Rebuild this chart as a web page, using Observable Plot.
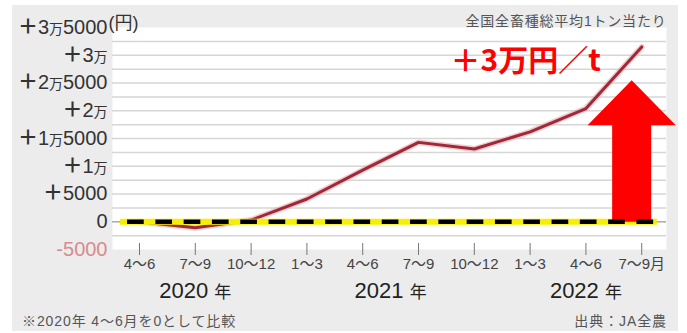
<!DOCTYPE html>
<html>
<head>
<meta charset="utf-8">
<script src="https://cdn.jsdelivr.net/npm/d3@7"></script>
<script src="https://cdn.jsdelivr.net/npm/@observablehq/plot@0.6"></script>
<style>
  body { margin: 0; background: #fff; }
  #wrap { position: relative; width: 687px; height: 333px; font-family: "Liberation Sans", "Noto Sans CJK JP", sans-serif; }
  #panel { position: absolute; left: 12px; top: 5px; width: 666px; height: 326px; background: #ececec; }
  #chart { position: absolute; left: 0; top: 0; }
  .foot { position: absolute; top: 313px; font-size: 14px; line-height: 16px; color: #555; white-space: nowrap; letter-spacing: 0.9px; }
  #note { left: 22px; }
  #source { right: 20px; }
</style>
</head>
<body>
<div id="wrap">
  <div id="panel"></div>
  <div id="chart"></div>
  <div class="foot" id="note">※2020年 4〜6月を0として比較</div>
  <div class="foot" id="source">出典：JA全農</div>
</div>
<script>
// ---- data ----
const periods = ["4〜6", "7〜9", "10〜12", "1〜3", "4〜6", "7〜9", "10〜12", "1〜3", "4〜6", "7〜9月"];
const values = [0, -1100, 300, 4100, 9300, 14300, 13100, 16200, 20400, 31500];
const years = ["2020 年", "2021 年", "2022 年"];
const yearPositions = [1, 4.5, 8];
const yTicks = [-5000, 0, 5000, 10000, 15000, 20000, 25000, 30000, 35000];
const yTickLabels = ["-5000", "0", "＋5000", "＋1万", "＋1万5000", "＋2万", "＋2万5000", "＋3万", "＋3万5000"];
const gridTicks = [-2500, 0, 2500, 5000, 7500, 10000, 12500, 15000, 17500, 20000, 22500, 25000, 27500, 30000, 32500];
const unitLabel = "(円)";
const subtitle = "全国全畜種総平均1トン当たり";
const callout = [{x: 6.92, y: 28900, text: "＋3万円／t"}];
// arrow annotation: center index, base value, head base value, tip value, half widths (index units)
const arrowSpec = {cx: 8.82, base: 0, neck: 17400, tip: 25500, shaftHalf: 0.35, headHalf: 0.79};
const zeroLineExtent = [-0.34, 9.28];

// ---- derived tables ----
const series = periods.map((p, i) => ({i, v: values[i]}));
const xIdx = periods.map((p, i) => i);
const yLabelMap = new Map(yTicks.map((t, i) => [t, yTickLabels[i]]));
const yearMap = new Map(yearPositions.map((p, i) => [p, years[i]]));
const a = arrowSpec;
const arrowPoly = [
  {x: a.cx - a.shaftHalf, y: a.base},
  {x: a.cx + a.shaftHalf, y: a.base},
  {x: a.cx + a.shaftHalf, y: a.neck},
  {x: a.cx + a.headHalf, y: a.neck},
  {x: a.cx, y: a.tip},
  {x: a.cx - a.headHalf, y: a.neck},
  {x: a.cx - a.shaftHalf, y: a.neck},
  {x: a.cx - a.shaftHalf, y: a.base}
];
const zeroSeg = [{x1: zeroLineExtent[0], x2: zeroLineExtent[1], y: 0}];

const chart = Plot.plot({
  width: 687,
  height: 305,
  marginLeft: 112,
  marginRight: 21,
  marginTop: 27,
  marginBottom: 56,
  style: {background: "transparent", fontFamily: "'Liberation Sans', 'Noto Sans CJK JP', sans-serif", color: "#333"},
  x: {type: "linear", domain: [-0.484, 9.444]},
  y: {domain: [-5000, 35000]},
  marks: [
    Plot.frame({fill: "white", stroke: "none"}),
    Plot.gridY(gridTicks, {stroke: "#d6d6d6", strokeOpacity: 1, strokeWidth: 1.5}),
    Plot.ruleY([0], {stroke: "#b0b0b0", strokeWidth: 1.5}),
    Plot.ruleX(xIdx, {stroke: "#777", strokeWidth: 1, insetTop: 216, insetBottom: -6}),
    Plot.axisY(yTicks, {tickSize: 0, tickPadding: 5, fontSize: 20, fill: "#333", tickFormat: d => yLabelMap.get(d), label: null}),
    Plot.axisX(xIdx, {tickSize: 0, tickPadding: 9, fontSize: 15, fill: "#444", tickFormat: d => periods[d], label: null}),
    Plot.axisX(yearPositions, {tickSize: 0, tickPadding: 33, fontSize: 22, fill: "#222", tickFormat: d => yearMap.get(d), label: null}),
    Plot.text([unitLabel], {frameAnchor: "top-left", textAnchor: "start", lineAnchor: "bottom", dx: -4, dy: 1, fontSize: 18, fill: "#333"}),
    Plot.text([subtitle], {frameAnchor: "top-right", textAnchor: "end", lineAnchor: "bottom", dy: -2, fontSize: 14, fill: "#555"}),
    // series with soft halo
    Plot.line(series, {x: "i", y: "v", stroke: "#e7a3ab", strokeWidth: 6, strokeOpacity: 0.55, strokeLinejoin: "round", strokeLinecap: "round"}),
    Plot.line(series, {x: "i", y: "v", stroke: "#9e2a37", strokeWidth: 3, strokeLinejoin: "round", strokeLinecap: "round"}),
    // zero reference: yellow band
    Plot.ruleY(zeroSeg, {x1: "x1", x2: "x2", y: "y", stroke: "#f6f000", strokeWidth: 6}),
    // red arrow
    Plot.line(arrowPoly, {x: "x", y: "y", fill: "#ff0000", stroke: "none"}),
    // black dashes
    Plot.ruleY(zeroSeg, {x1: "x1", x2: "x2", y: "y", stroke: "#000", strokeWidth: 4.5, strokeDasharray: "16.7,11.6", strokeDashoffset: 21.3}),
    Plot.text(callout, {x: "x", y: "y", text: "text", fontSize: 30, fontWeight: "bold", fill: "#ff0000", fontFamily: "'Noto Sans CJK JP', sans-serif"})
  ]
});

// smaller glyphs for 万 and 年, bolder plus, pink for negative tick
function styleChar(root, selector, ch, attrs) {
  root.querySelectorAll(selector).forEach(t => {
    if (!t.textContent.includes(ch)) return;
    const parts = [];
    t.childNodes.forEach(n => parts.push(n));
    t.textContent = "";
    parts.forEach(n => {
      const isSpan = n.nodeType === 1;
      const s = n.textContent;
      s.split(new RegExp("(" + ch + ")")).forEach(part => {
        if (!part) return;
        const ts = document.createElementNS("http://www.w3.org/2000/svg", "tspan");
        ts.textContent = part;
        if (isSpan) for (const at of n.attributes) ts.setAttribute(at.name, at.value);
        if (part === ch) for (const k in attrs) ts.setAttribute(k, attrs[k]);
        t.appendChild(ts);
      });
    });
  });
}
styleChar(chart, 'g[aria-label="y-axis tick label"] text', "万", {"font-size": 14});
styleChar(chart, 'g[aria-label="y-axis tick label"] text', "＋", {"font-weight": "bold"});
styleChar(chart, 'g[aria-label="x-axis tick label"] text', "年", {"font-size": 17});
chart.querySelectorAll('g[aria-label="y-axis tick label"] text').forEach(t => {
  if (t.textContent.startsWith("-")) t.setAttribute("fill", "#d98a8c");
});
chart.querySelectorAll("text").forEach(t => {
  if (t.textContent === subtitle) t.setAttribute("letter-spacing", "0.8");
});

document.getElementById("chart").appendChild(chart);
</script>
</body>
</html>
